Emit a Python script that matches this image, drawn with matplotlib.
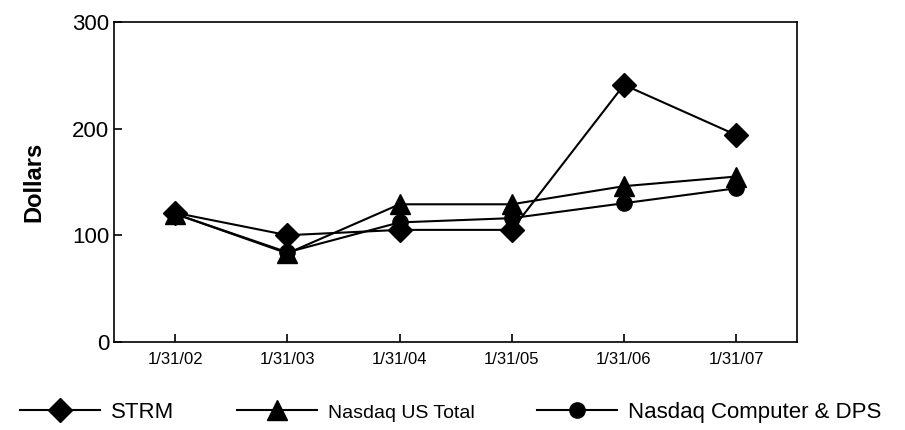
import matplotlib.pyplot as plt

# Data
dates = ["1/31/02", "1/31/03", "1/31/04", "1/31/05", "1/31/06", "1/31/07"]
strm = [121, 100, 105, 105, 241, 194]
nasdaq_total = [120, 83, 129, 129, 146, 155]
nasdaq_computer = [120, 84, 112, 116, 130, 144]

plt.rcParams["font.family"] = ["Liberation Sans", "DejaVu Sans"]

fig = plt.figure(figsize=(9.05, 4.3), dpi=100)
ax = fig.add_axes([0.126, 0.205, 0.755, 0.744])

x = range(len(dates))
ax.plot(x, strm, color="black", lw=1.5, marker="D", ms=12, label="STRM")
ax.plot(x, nasdaq_total, color="black", lw=1.5, marker="^", ms=15, label="Nasdaq US Total")
ax.plot(x, nasdaq_computer, color="black", lw=1.5, marker="o", ms=11,
        label="Nasdaq Computer & DPS")

ax.set_xlim(-0.545, 5.545)
ax.set_ylim(0, 300)
ax.set_yticks([0, 100, 200, 300])
ax.set_xticks(list(x))
ax.set_xticklabels(dates, fontsize=12)
ax.tick_params(axis="y", labelsize=16, direction="in", length=6, width=1.2)
ax.tick_params(axis="x", direction="in", length=6, width=1.2, pad=7)
for s in ax.spines.values():
    s.set_linewidth(1.2)
ax.set_ylabel("Dollars", fontsize=17, fontweight="bold", labelpad=19)

leg = fig.legend(loc="lower left", bbox_to_anchor=(0.0, -0.03), ncol=3, frameon=False,
                 fontsize=16, handlelength=3.6, columnspacing=2.8, handletextpad=0.5)
leg.get_texts()[1].set_fontsize(14)

fig.savefig("out.png", dpi=100)
